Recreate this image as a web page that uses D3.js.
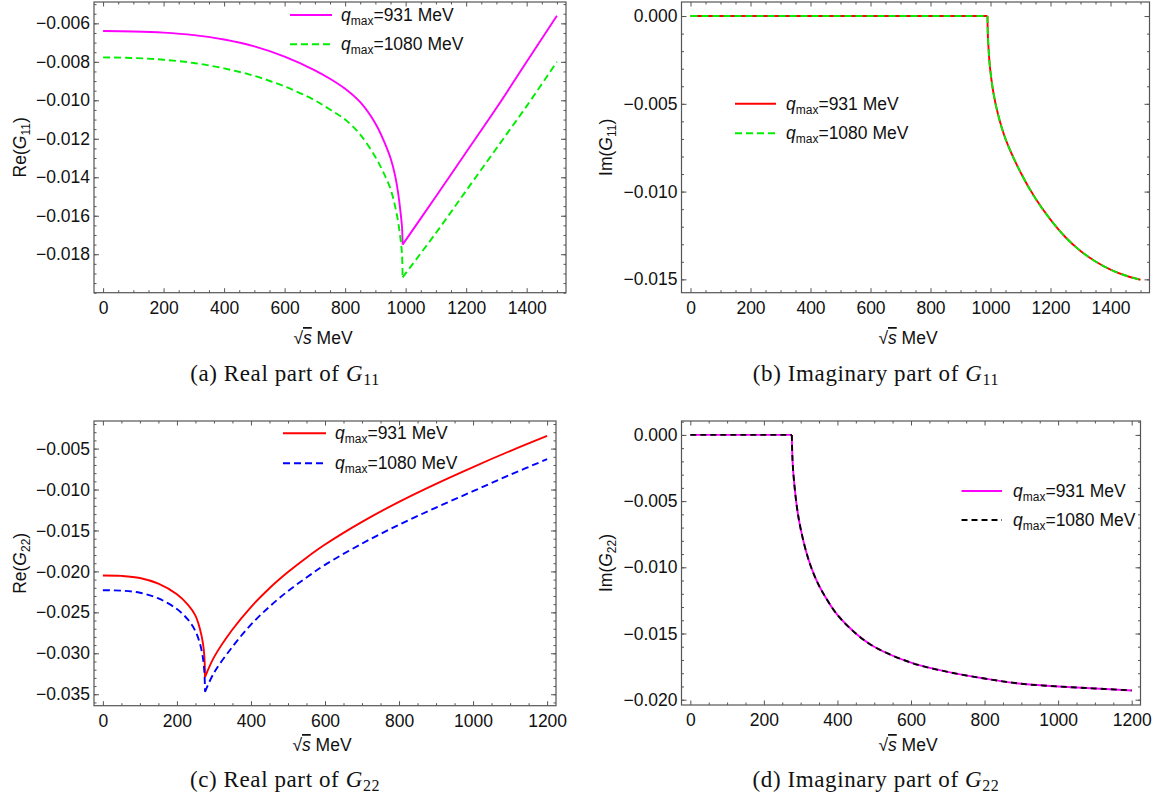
<!DOCTYPE html>
<html>
<head>
<meta charset="utf-8">
<script src="https://cdn.jsdelivr.net/npm/d3@7"></script>
<style>
    body { margin: 0; background: #fff; }
    svg { display: block; }
    text { font-family: "Liberation Sans", Arial, sans-serif; }
    .caption { font-family: "Liberation Serif", "DejaVu Serif", serif; }
</style>
</head>
<body>
<div id="chart"></div>
<script>
// ---- values ----

// (a) Re(G11), cusp at the threshold (~990 MeV)
const sReG11 = [0, 100, 200, 300, 400, 500, 600, 700, 750, 800, 850, 900, 925, 950, 965, 975, 983, 988, 990,
                1100, 1200, 1300, 1400, 1500];
const reG11_931 = [-0.0064, -0.00642, -0.00648, -0.00661, -0.00684, -0.0072, -0.00773, -0.00844, -0.00888, -0.0094,
                   -0.0101, -0.0112, -0.0120, -0.0130, -0.0139, -0.0148, -0.0158, -0.0166, -0.0175,
                   -0.0150, -0.0127, -0.0104, -0.0080, -0.0056];
const reG11_1080 = [-0.00777, -0.0078, -0.00789, -0.00806, -0.00834, -0.00873, -0.00928, -0.0100, -0.01048, -0.0110,
                    -0.01178, -0.01295, -0.0137, -0.0146, -0.0155, -0.0163, -0.0172, -0.0180, -0.0192,
                    -0.0169, -0.0147, -0.0125, -0.0103, -0.0080];

// (b) Im(G11) - both cutoffs give the same curve
const sImG11 = [0, 990, 991, 993, 996, 1000, 1010, 1025, 1050, 1100, 1150, 1200, 1250, 1300, 1350, 1400, 1450, 1500];
const imG11_931 = [0, 0, -0.0010, -0.0017, -0.0025, -0.0032, -0.0044, -0.0056, -0.0070, -0.0089, -0.0104, -0.0116,
                   -0.0126, -0.01338, -0.01398, -0.01444, -0.01478, -0.01502];
const imG11_1080 = [0, 0, -0.0010, -0.0017, -0.0025, -0.0032, -0.0044, -0.0056, -0.0070, -0.0089, -0.0104, -0.0116,
                    -0.0126, -0.01338, -0.01398, -0.01444, -0.01478, -0.01502];

// (c) Re(G22), cusp at the threshold (~276 MeV)
const sReG22 = [0, 50, 100, 150, 200, 230, 250, 262, 270, 274, 276,
                300, 350, 400, 450, 500, 550, 600, 700, 800, 900, 1000, 1100, 1200];
const reG22_931 = [-0.0205, -0.02055, -0.0208, -0.0215, -0.0228, -0.0241, -0.0254, -0.0270, -0.0287, -0.0303, -0.0329,
                   -0.0305, -0.0271, -0.02435, -0.02205, -0.02008, -0.01832, -0.01672, -0.01395, -0.0115, -0.0093,
                   -0.00725, -0.0053, -0.00345];
const reG22_1080 = [-0.0223, -0.02235, -0.0226, -0.0233, -0.0246, -0.0259, -0.0273, -0.0288, -0.0305, -0.0322, -0.0347,
                    -0.0324, -0.0292, -0.0265, -0.0243, -0.0224, -0.02075, -0.0192, -0.0166, -0.0143, -0.0122,
                    -0.0102, -0.0082, -0.0063];

// (d) Im(G22) - both cutoffs give the same curve
const sImG22 = [0, 276, 278, 282, 290, 300, 320, 340, 360, 400, 450, 500, 600, 700, 800, 900, 1000, 1100, 1200];
const imG22_931 = [0, 0, -0.0020, -0.0035, -0.0055, -0.0071, -0.0093, -0.0108, -0.0119, -0.0136, -0.0150, -0.0160,
                   -0.0172, -0.0179, -0.0184, -0.0188, -0.0190, -0.01915, -0.0193];
const imG22_1080 = [0, 0, -0.0020, -0.0035, -0.0055, -0.0071, -0.0093, -0.0108, -0.0119, -0.0136, -0.0150, -0.0160,
                    -0.0172, -0.0179, -0.0184, -0.0188, -0.0190, -0.01915, -0.0193];

// tick labels
const xTicks1500 = [0, 200, 400, 600, 800, 1000, 1200, 1400];
const xTicks1200 = [0, 200, 400, 600, 800, 1000, 1200];
const yTicksA = [-0.018, -0.016, -0.014, -0.012, -0.010, -0.008, -0.006];
const yTicksB = [-0.015, -0.010, -0.005, 0];
const yTicksC = [-0.035, -0.030, -0.025, -0.020, -0.015, -0.010, -0.005];
const yTicksD = [-0.020, -0.015, -0.010, -0.005, 0];

const cutoffs = ['931', '1080'];

// ---- layout ----
const W = 1163, H = 803;
const frameColor = '#555';

const svg = d3.select('#chart').append('svg')
    .attr('width', W)
    .attr('height', H)
    .style('background', '#fff');

const panels = [
    {
        id: 'a', part: 'Re', sub: '11', caption: '(a) Real part of ',
        left: 94, right: 566, top: 2, bottom: 292.7,
        xDomain: [-30, 1530], yDomain: [-0.0200, -0.00489],
        xTicks: xTicks1500, yTicks: yTicksA, yMinor: 0.0005, breakAt: 990,
        series: [
            { color: '#ff00ff', dash: null, xs: sReG11, ys: reG11_931 },
            { color: '#00ee00', dash: '7,4', xs: sReG11, ys: reG11_1080 }
        ],
        legend: { x0: 290, x1: 332, tx: 341, rows: [15, 44.3] },
        labelX: 20, xLabelX: 323, xLabelY: 344, captionX: 285, captionY: 381
    },
    {
        id: 'b', part: 'Im', sub: '11', caption: '(b) Imaginary part of ',
        left: 681.5, right: 1149.5, top: 2, bottom: 292.7,
        xDomain: [-30, 1530], yDomain: [-0.01576, 0.0008],
        xTicks: xTicks1500, yTicks: yTicksB, yMinor: 0.001, breakAt: 990,
        series: [
            { color: '#ff0000', dash: null, xs: sImG11, ys: imG11_931 },
            { color: '#00ee00', dash: '7,4', xs: sImG11, ys: imG11_1080 }
        ],
        legend: { x0: 735, x1: 776, tx: 786, rows: [103.7, 133.3] },
        labelX: 606, xLabelX: 908, xLabelY: 344, captionX: 876, captionY: 381
    },
    {
        id: 'c', part: 'Re', sub: '22', caption: '(c) Real part of ',
        left: 94, right: 556, top: 421, bottom: 705.7,
        xDomain: [-24, 1224], yDomain: [-0.0364, -0.00163],
        xTicks: xTicks1200, yTicks: yTicksC, yMinor: 0.001, breakAt: 276,
        series: [
            { color: '#ff0000', dash: null, xs: sReG22, ys: reG22_931 },
            { color: '#0000ff', dash: '7,4', xs: sReG22, ys: reG22_1080 }
        ],
        legend: { x0: 283, x1: 326, tx: 335, rows: [433.3, 463.3] },
        labelX: 20, xLabelX: 322, xLabelY: 751, captionX: 285, captionY: 787
    },
    {
        id: 'd', part: 'Im', sub: '22', caption: '(d) Imaginary part of ',
        left: 681.5, right: 1140.5, top: 421, bottom: 705,
        xDomain: [-24, 1224], yDomain: [-0.0204, 0.00105],
        xTicks: xTicks1200, yTicks: yTicksD, yMinor: 0.001, breakAt: 276,
        series: [
            { color: '#ff00ff', dash: null, xs: sImG22, ys: imG22_931 },
            { color: '#000000', dash: '6,4', xs: sImG22, ys: imG22_1080 }
        ],
        legend: { x0: 961.5, x1: 1002, tx: 1013, rows: [491, 520] },
        labelX: 606, xLabelX: 908, xLabelY: 751, captionX: 876, captionY: 787
    }
];

// q_max=... label with italic q and subscript
function qLabel(text, value) {
    text.append('tspan').attr('font-style', 'italic').text('q');
    text.append('tspan').attr('font-size', 12).attr('dy', 4).text('max');
    text.append('tspan').attr('dy', -4).text(`=${value} MeV`);
}

function styleAxis(g) {
    g.select('.domain').remove();
    g.selectAll('.tick line').attr('stroke', frameColor).attr('stroke-width', 1);
    g.selectAll('.tick text')
        .attr('fill', '#111')
        .attr('font-size', 17.5)
        .attr('font-family', '"Liberation Sans", Arial, sans-serif');
    g.attr('font-family', null).attr('font-size', null);
}

function drawPanel(p) {
    const x = d3.scaleLinear().domain(p.xDomain).range([p.left, p.right]);
    const y = d3.scaleLinear().domain(p.yDomain).range([p.bottom, p.top]);
    const g = svg.append('g');

    // Clip region for the curves
    const clipId = 'clip-' + p.id;
    svg.append('clipPath').attr('id', clipId)
        .append('rect')
        .attr('x', p.left).attr('y', p.top)
        .attr('width', p.right - p.left).attr('height', p.bottom - p.top);

    // Minor tick positions
    const xMinor = d3.range(0, p.xDomain[1], 50).filter(v => v % 200 !== 0);
    const yLo = Math.ceil(p.yDomain[0] / p.yMinor - 1e-6);
    const yHi = Math.floor(p.yDomain[1] / p.yMinor + 1e-6);
    const yMinor = d3.range(yLo, yHi + 1).map(k => k * p.yMinor);

    const fmt = d3.format('.3f');

    // Major ticks with labels (bottom, left)
    g.append('g').attr('transform', `translate(0,${p.bottom})`)
        .call(d3.axisBottom(x).tickValues(p.xTicks).tickSize(-4.5).tickPadding(9).tickFormat(d3.format('d')))
        .call(styleAxis);
    g.append('g').attr('transform', `translate(${p.left},0)`)
        .call(d3.axisLeft(y).tickValues(p.yTicks).tickSize(-5).tickPadding(4).tickFormat(fmt))
        .call(styleAxis);

    // Mirrored major ticks (top, right)
    g.append('g').attr('transform', `translate(0,${p.top})`)
        .call(d3.axisTop(x).tickValues(p.xTicks).tickSize(-4.5).tickFormat(''))
        .call(styleAxis);
    g.append('g').attr('transform', `translate(${p.right},0)`)
        .call(d3.axisRight(y).tickValues(p.yTicks).tickSize(-5).tickFormat(''))
        .call(styleAxis);

    // Minor ticks on all four sides
    [[d3.axisBottom(x).tickValues(xMinor), `translate(0,${p.bottom})`],
     [d3.axisTop(x).tickValues(xMinor), `translate(0,${p.top})`],
     [d3.axisLeft(y).tickValues(yMinor), `translate(${p.left},0)`],
     [d3.axisRight(y).tickValues(yMinor), `translate(${p.right},0)`]
    ].forEach(([axis, tr]) => {
        g.append('g').attr('transform', tr)
            .call(axis.tickSize(-2.5).tickFormat(''))
            .call(styleAxis);
    });

    // Curves: split at the threshold so the cusp / corner stays sharp
    const line = d3.line()
        .x(d => x(d[0]))
        .y(d => y(d[1]))
        .curve(d3.curveCatmullRom.alpha(0.5));

    const curves = g.append('g').attr('clip-path', `url(#${clipId})`);
    p.series.forEach(s => {
        const pts = d3.zip(s.xs, s.ys);
        const pieces = [pts.filter(d => d[0] <= p.breakAt), pts.filter(d => d[0] >= p.breakAt)];
        pieces.forEach(piece => {
            curves.append('path')
                .datum(piece)
                .attr('d', line)
                .attr('fill', 'none')
                .attr('stroke', s.color)
                .attr('stroke-width', 1.9)
                .attr('stroke-dasharray', s.dash)
                .attr('stroke-linejoin', 'round');
        });
    });

    // Frame
    g.append('rect')
        .attr('x', p.left).attr('y', p.top)
        .attr('width', p.right - p.left).attr('height', p.bottom - p.top)
        .attr('fill', 'none')
        .attr('stroke', frameColor)
        .attr('stroke-width', 1.2);

    // Legend
    p.series.forEach((s, i) => {
        const ly = p.legend.rows[i];
        g.append('line')
            .attr('x1', p.legend.x0).attr('x2', p.legend.x1)
            .attr('y1', ly).attr('y2', ly)
            .attr('stroke', s.color)
            .attr('stroke-width', 1.9)
            .attr('stroke-dasharray', s.dash);
        const t = g.append('text')
            .attr('x', p.legend.tx).attr('y', ly + 6)
            .attr('font-size', 17.5)
            .attr('fill', '#111');
        qLabel(t, cutoffs[i]);
    });

    // Y axis label
    const cy = (p.top + p.bottom) / 2;
    const yl = g.append('text')
        .attr('transform', `translate(${p.labelX + 6},${cy}) rotate(-90)`)
        .attr('text-anchor', 'middle')
        .attr('font-size', 17.5)
        .attr('fill', '#111');
    yl.append('tspan').text(p.part + '(');
    yl.append('tspan').attr('font-style', 'italic').text('G');
    yl.append('tspan').attr('font-size', 12).attr('dy', 4).text(p.sub);
    yl.append('tspan').attr('dy', -4).text(')');

    // X axis label: sqrt(s) MeV
    const xl = g.append('text')
        .attr('x', p.xLabelX).attr('y', p.xLabelY)
        .attr('text-anchor', 'middle')
        .attr('font-size', 17.5)
        .attr('fill', '#111');
    xl.append('tspan').text('\u221A');
    xl.append('tspan').attr('font-style', 'italic')
        .style('text-decoration', 'overline').text('s');
    xl.append('tspan').text(' MeV');

    // Caption
    const cap = g.append('text')
        .attr('class', 'caption')
        .attr('x', p.captionX).attr('y', p.captionY)
        .attr('text-anchor', 'middle')
        .attr('font-size', 23)
        .attr('letter-spacing', 0.6)
        .attr('fill', '#111');
    cap.append('tspan').text(p.caption);
    cap.append('tspan').attr('font-style', 'italic').text('G');
    cap.append('tspan').attr('font-size', 16).attr('dy', 4).text(p.sub);
}

panels.forEach(drawPanel);
</script>
</body>
</html>
